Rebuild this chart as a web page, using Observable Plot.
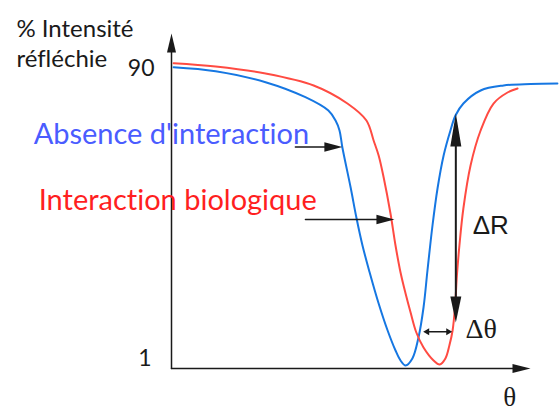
<!DOCTYPE html>
<html>
<head>
<meta charset="utf-8">
<script src="https://cdn.jsdelivr.net/npm/d3@7"></script>
<script src="https://cdn.jsdelivr.net/npm/@observablehq/plot@0.6"></script>
<style>
  body { margin: 0; background: #fff; }
  svg text { font-variant-ligatures: none; }
</style>
</head>
<body>
<div id="chart"></div>
<script>
// Surface plasmon resonance: reflected intensity vs. angle θ,
// without (blue) and with (red) a biological interaction.

// Curve without interaction
const blueTheta = [0.6, 12.3, 26.2, 37.3, 43.7, 45.7, 46.8, 47.6, 49.9, 51.5, 53.2, 55.2, 57.7, 60.2, 62.4, 63.8, 65.2,
                   67.1, 68.8, 70.2, 71.3, 72.7, 74.1, 75.8, 77.7, 79.1, 81.3, 86.1, 92.5, 100, 107.5];
const blueR     = [90.4, 89.2, 85.9, 81.4, 77.4, 74.4, 71.4, 66.3, 54.3, 45.3, 36.9, 28.8, 19.5, 11.4, 5.4, 2.4, 0.9,
                   3.0, 9.3, 18.3, 29.4, 42.9, 54.0, 63.9, 71.4, 75.9, 79.5, 83.4, 84.9, 85.35, 85.5];

// Curve with biological interaction (shifted resonance)
const redTheta = [0.6, 12.3, 26.2, 39.6, 49.0, 54.3, 56.3, 57.7, 59.1, 61.0, 62.4, 63.8, 65.2, 66.6, 68.2, 70.2,
                  73.0, 74.7, 76.3, 77.4, 78.3, 79.0, 79.5, 80.2, 81.3, 83.3, 86.1, 89.7, 93.6, 96.4];
const redR     = [91.6, 90.6, 88.5, 84.9, 79.5, 74.4, 68.4, 63.9, 57.3, 46.5, 36.9, 28.8, 22.5, 16.8, 10.8, 6.3,
                  2.4, 1.2, 3.0, 6.9, 11.4, 18.9, 27.9, 36.9, 48.0, 60.9, 71.4, 79.5, 82.8, 84.0];

// Axis extents and tick labels
const yTicks = [1, 90];
const axisEnd = {theta: 100, R: 100.5};

// ΔR: change in reflectivity at a fixed angle
const deltaRTheta = 79.2;
const deltaRSpan = [76.5, 13.8];

// Δθ: shift of the resonance angle
const deltaThetaR = 11.0;
const deltaThetaSpan = [70.1, 78.2];

// Pointers from the legend labels to their curves
const pointerR = [66.45, 44.7];
const pointerFrom = [34.5, 37.3];
const pointerTo = [47.6, 62.1];

// Text labels (θ, R of the anchor point)
const labelText = ["% Intensité", "réfléchie", "Absence d'interaction", "Interaction biologique"];
const labelTheta = [-43.2, -43.2, -38.4, -37.0];
const labelR = [101.7, 92.7, 70.0, 50.4];

const blueColor = "#1677e2";
const redColor = "#ff4b42";
const ink = "#1a1a1a";

const blue = blueTheta.map((t, i) => ({theta: t, R: blueR[i]}));
const red = redTheta.map((t, i) => ({theta: t, R: redR[i]}));
const labels = labelText.map((s, i) => ({text: s, theta: labelTheta[i], R: labelR[i]}));
const pointers = pointerR.map((r, i) => ({x1: pointerFrom[i], x2: pointerTo[i], R: r}));

const head = (data, opts) => Plot.vector(data, {shape: "spike", anchor: "end", fill: ink, stroke: "none", ...opts});

const chart = Plot.plot({
  width: 559,
  height: 418,
  marginLeft: 171,
  marginRight: 29,
  marginTop: 34.67,
  marginBottom: 50,
  x: {domain: [0, 100], axis: null},
  y: {domain: [0, 100], axis: null},
  style: {fontFamily: "Lato", color: ink, background: "#fff", overflow: "visible"},
  marks: [
    // Axes drawn as arrows
    Plot.arrow([{t: 0, r: 0}], {x1: "t", y1: "r", x2: "t", y2: () => axisEnd.R, headLength: 0, insetEnd: 17, stroke: ink, strokeWidth: 1.5}),
    Plot.arrow([{t: 0, r: 0}], {x1: "t", y1: "r", x2: () => axisEnd.theta, y2: "r", headLength: 0, insetEnd: 16, stroke: ink, strokeWidth: 1.5}),
    head([{t: 0, r: axisEnd.R}], {x: "t", y: "r", rotate: 0, length: 19, r: 4.5}),
    head([{t: axisEnd.theta, r: 0}], {x: "t", y: "r", rotate: 90, length: 18, r: 4.5}),

    Plot.axisY({ticks: [yTicks[1]], tickSize: 0, tickPadding: 17, fontSize: 23, label: null}),
    Plot.axisY({ticks: [yTicks[0]], tickSize: 0, tickPadding: 20, fontSize: 23, label: null, dy: -7}),

    // Reflectivity curves
    Plot.line(blue, {x: "theta", y: "R", stroke: blueColor, strokeWidth: 2, curve: "catmull-rom"}),
    Plot.line(red, {x: "theta", y: "R", stroke: redColor, strokeWidth: 2, curve: "catmull-rom"}),

    // ΔR double arrow
    Plot.arrow([{t: deltaRTheta, a: deltaRSpan[0], b: deltaRSpan[1]}], {x1: "t", y1: "a", x2: "t", y2: "b", headLength: 0, insetStart: 20, insetEnd: 15, stroke: ink, strokeWidth: 2}),
    head([{t: deltaRTheta, r: deltaRSpan[0]}], {x: "t", y: "r", rotate: 0, length: 33, r: 5.5}),
    head([{t: deltaRTheta, r: deltaRSpan[1]}], {x: "t", y: "r", rotate: 180, length: 26, r: 5.5}),

    // Δθ double arrow
    Plot.arrow([{r: deltaThetaR, a: deltaThetaSpan[0], b: deltaThetaSpan[1]}], {x1: "a", y1: "r", x2: "b", y2: "r", headLength: 0, insetStart: 4, insetEnd: 4, stroke: ink, strokeWidth: 1.5}),
    head([{t: deltaThetaSpan[0], r: deltaThetaR}], {x: "t", y: "r", rotate: 270, length: 6, r: 3.5}),
    head([{t: deltaThetaSpan[1], r: deltaThetaR}], {x: "t", y: "r", rotate: 90, length: 6, r: 3.5}),

    // Label pointers
    Plot.arrow(pointers, {x1: "x1", y1: "R", x2: "x2", y2: "R", headLength: 0, insetEnd: 14, stroke: ink, strokeWidth: 1.5}),
    head(pointers, {x: "x2", y: "R", rotate: 90, length: 18, r: 4.8}),

    // Text labels
    Plot.text(labels.slice(0, 2), {x: "theta", y: "R", text: "text", textAnchor: "start", fontSize: 24, fill: ink}),
    Plot.text(labels.slice(2, 3), {x: "theta", y: "R", text: "text", textAnchor: "start", fontSize: 29, fill: "#4a5cff"}),
    Plot.text(labels.slice(3, 4), {x: "theta", y: "R", text: "text", textAnchor: "start", fontSize: 29, fill: "#ff1f1f"}),
    Plot.text([{t: 83.9, r: 42.9}], {x: "t", y: "r", text: () => "ΔR", textAnchor: "start", fontSize: 26, fontFamily: "Liberation Sans", fill: ink}),
    Plot.text([{t: 81.9, r: 11.7}], {x: "t", y: "r", text: () => "Δθ", textAnchor: "start", fontSize: 28, fontFamily: "Liberation Serif", fill: ink}),
    Plot.text([{t: 94.2, r: -8.7}], {x: "t", y: "r", text: () => "θ", fontSize: 27, fontFamily: "Liberation Serif", fill: ink})
  ]
});

document.getElementById("chart").append(chart);
</script>
</body>
</html>
